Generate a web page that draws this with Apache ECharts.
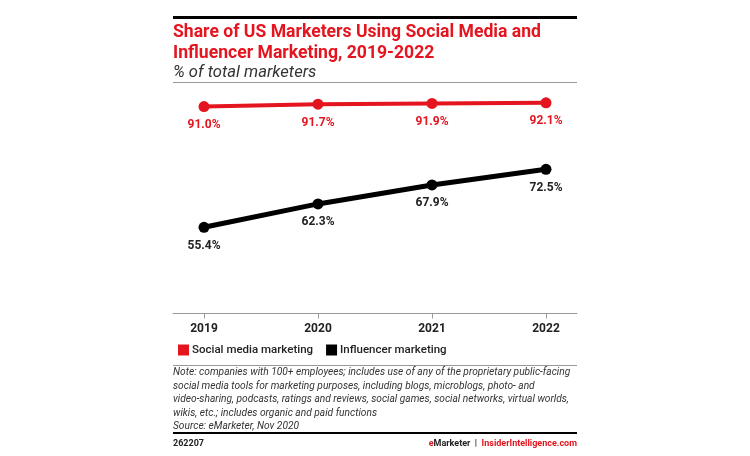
<!DOCTYPE html>
<html><head><meta charset="utf-8">
<script src="https://cdn.jsdelivr.net/npm/echarts@6/dist/echarts.min.js"></script>
<style>html,body{margin:0;padding:0;background:#fff}#c{width:750px;height:456px}</style>
</head><body><div id="c"></div>
<script>
const years = [2019, 2020, 2021, 2022];
const socialMedia = [91.0, 91.7, 91.9, 92.1];
const influencer = [55.4, 62.3, 67.9, 72.5];
const seriesNames = ['Social media marketing', 'Influencer marketing'];

const chart = echarts.init(document.getElementById('c'), null, {renderer: 'canvas'});
const F = 'Roboto, "Liberation Sans", sans-serif';
const RED = '#e4151f';
const notes = [
  'Note: companies with 100+ employees; includes use of any of the proprietary public-facing',
  'social media tools for marketing purposes, including blogs, microblogs, photo- and',
  'video-sharing, podcasts, ratings and reviews, social games, social networks, virtual worlds,',
  'wikis, etc.; includes organic and paid functions',
  'Source: eMarketer, Nov 2020'
];
function pairs(v){ return years.map((y,i)=>[y, v[i]]); }
function labelCfg(color){ return {show:true, position:'bottom', distance:7, color:color, fontFamily:F, fontWeight:'bold', fontSize:12, formatter:p=>p.value[1].toFixed(1)+'%'}; }

const option = {
  animation:false,
  grid:{left:173, right:173, top:76, bottom:142.5},
  xAxis:{type:'value', min:2018.728, max:2022.272,
    splitLine:{show:false},
    axisLine:{show:true, lineStyle:{color:'#999', width:1}},
    axisTick:{show:true, customValues:years, length:5, lineStyle:{color:'#999'}},
    axisLabel:{customValues:years, color:'#222', fontFamily:F, fontWeight:'bold', fontSize:12, margin:9, formatter:v=>String(v)}
  },
  yAxis:{type:'value', min:30, max:100, show:false, splitLine:{show:false}},
  legend:{show:true, left:173, top:339, itemWidth:11, itemHeight:11, itemGap:13, icon:'rect',
    textStyle:{fontFamily:F, fontSize:11.5, color:'#222', fontWeight:500, padding:[0,0,0,-2]},
    data:seriesNames},
  series:[
    {name:seriesNames[0], type:'line', data:pairs(socialMedia), color:RED,
     lineStyle:{width:4, color:RED}, symbol:'circle', symbolSize:11, itemStyle:{color:RED},
     label:labelCfg(RED)},
    {name:seriesNames[1], type:'line', data:pairs(influencer), color:'#000',
     lineStyle:{width:5, color:'#000'}, symbol:'circle', symbolSize:11, itemStyle:{color:'#000'},
     label:labelCfg('#222')}
  ],
  graphic:[
    {type:'rect', shape:{x:173, y:16, width:404, height:3}, style:{fill:'#000'}},
    {type:'text', left:173, top:24, style:{text:'Share of US Marketers Using Social Media and', fill:RED, font:'bold 17.6px '+F}},
    {type:'text', left:173, top:45, style:{text:'Influencer Marketing, 2019-2022', fill:RED, font:'bold 17.6px '+F}},
    {type:'text', left:173, top:64, style:{text:'% of total marketers', fill:'#333', font:'italic 16.6px '+F}},
    {type:'rect', shape:{x:173, y:82, width:404, height:1}, style:{fill:'#999'}},
    {type:'rect', shape:{x:173, y:365, width:404, height:1}, style:{fill:'#999'}},
    {type:'text', left:173, top:366, style:{text:notes.join('\n'), fill:'#333', font:'italic 10.2px '+F, lineHeight:13.5}},
    {type:'rect', shape:{x:173, y:432, width:404, height:2}, style:{fill:'#000'}},
    {type:'text', left:173, top:439, style:{text:'262207', fill:'#222', font:'bold 9px '+F}},
    {type:'text', right:173, top:439, style:{text:'{r|e}{k|Marketer  |  }{r|InsiderIntelligence.com}',
      rich:{r:{fill:RED, font:'bold 9px '+F}, k:{fill:'#222', font:'bold 9px '+F}}}}
  ]
};
chart.setOption(option);
</script></body></html>
